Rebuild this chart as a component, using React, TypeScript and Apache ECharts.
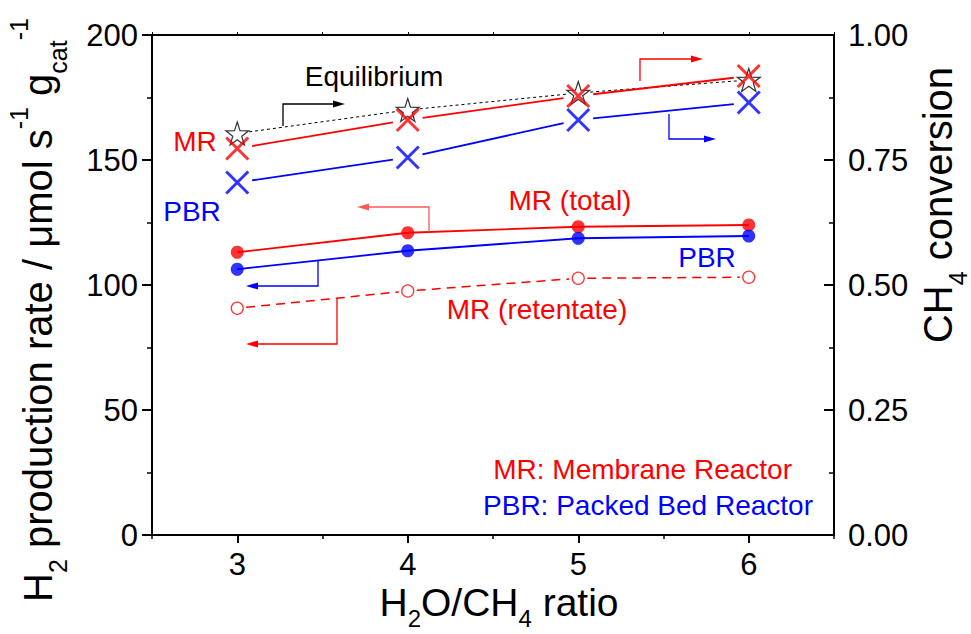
import React, { useEffect, useRef } from 'react';
import * as echarts from 'echarts';

// ---- data ----
const ratios = [3, 4, 5, 6];
const xTickLabels = [3, 4, 5, 6];
const mrTotalRate = [113.1, 120.9, 123.3, 124.0];
const pbrRate = [106.3, 113.7, 118.7, 119.6];
const mrRetentateRate = [90.7, 97.6, 102.7, 103.1];
const eqConversion = [0.803, 0.85, 0.884, 0.91];
const mrConversion = [0.773, 0.83, 0.878, 0.918];
const pbrConversion = [0.705, 0.755, 0.83, 0.865];
const rateAxis = { min: 0, max: 200, interval: 50 };
const convAxis = { min: 0, max: 1, interval: 0.25 };

const FONT = 'Liberation Sans, Arial, Helvetica, sans-serif';
const RED = '#ff0000';
const BLUE = '#0000ff';

const starPath = (() => {
  const pts: string[] = [];
  for (let k = 0; k < 10; k++) {
    const r = k % 2 === 0 ? 10 : 3.9;
    const a = (-90 + k * 36) * Math.PI / 180;
    pts.push(`${(r * Math.cos(a)).toFixed(3)},${(r * Math.sin(a)).toFixed(3)}`);
  }
  return 'path://M' + pts.join('L') + 'Z';
})();
const crossPath = 'path://M0,0L10,10M10,0L0,10';

function segmentSeries(values: number[], yAxisIndex: number, color: string, width: number, dash: number[] | null, gap: number) {
  return {
    type: 'custom',
    xAxisIndex: 0,
    yAxisIndex,
    silent: true,
    z: 2,
    data: ratios.map((x, i) => [x, values[i]]),
    encode: { x: 0, y: 1 },
    renderItem: (params: any, api: any) => {
      const i = params.dataIndex;
      if (i >= ratios.length - 1) return { type: 'group', children: [] };
      const a = api.coord([ratios[i], values[i]]);
      const b = api.coord([ratios[i + 1], values[i + 1]]);
      const dx = b[0] - a[0];
      const dy = b[1] - a[1];
      const len = Math.hypot(dx, dy);
      const ux = dx / len;
      const uy = dy / len;
      return {
        type: 'line',
        shape: { x1: a[0] + ux * gap, y1: a[1] + uy * gap, x2: b[0] - ux * gap, y2: b[1] - uy * gap },
        style: { stroke: color, lineWidth: width, lineDash: dash || undefined, fill: null },
      };
    },
  };
}

function markerSeries(values: number[], yAxisIndex: number, symbol: string, size: number, itemStyle: any, z = 3) {
  return {
    type: 'scatter',
    xAxisIndex: 0,
    yAxisIndex,
    z,
    symbol,
    symbolSize: size,
    itemStyle,
    data: ratios.map((x, i) => [x, values[i]]),
  };
}

function arrow(pts: number[][], color: string, width = 1.3): any[] {
  const [px, py] = pts[pts.length - 1];
  const [qx] = pts[pts.length - 2];
  const dir = Math.sign(px - qx);
  const headLen = 12;
  const half = 3.5;
  const base = px - dir * headLen;
  return [
    {
      type: 'polyline',
      z: 5,
      shape: { points: [...pts.slice(0, -1), [base, py]] },
      style: { stroke: color, lineWidth: width, fill: 'none' },
    },
    {
      type: 'polygon',
      z: 5,
      shape: { points: [[px, py], [base, py - half], [base, py + half]] },
      style: { fill: color, stroke: 'none' },
    },
  ];
}

function label(text: string, x: number, y: number, color: string, align = 'center', size = 28): any {
  return {
    type: 'text',
    x,
    y,
    z: 6,
    style: { text, fill: color, font: `${size}px ${FONT}`, align, verticalAlign: 'middle' },
  };
}

const titleRich = (size: number, lh: number) => ({
  m: { fontSize: size, fontFamily: FONT, fill: '#000', lineHeight: lh },
  sb: { fontSize: Math.round(size * 0.62), fontFamily: FONT, fill: '#000', lineHeight: 25, verticalAlign: 'bottom' },
  sp: { fontSize: Math.round(size * 0.62), fontFamily: FONT, fill: '#000', lineHeight: 32, verticalAlign: 'top' },
});

function title(text: string, x: number, y: number, size: number, rotation: number, lh = 64): any {
  return {
    type: 'text',
    x,
    y,
    rotation,
    z: 6,
    style: { text, rich: titleRich(size, lh), fill: '#000', font: `${size}px ${FONT}`, align: 'center', verticalAlign: 'middle' },
  };
}

export default function App() {
  const ref = useRef<HTMLDivElement>(null);
  useEffect(() => {
    if (!ref.current) return;
    const chart = echarts.init(ref.current, null, { renderer: 'svg' });
    const axisLine = { show: true, onZero: false, lineStyle: { color: '#000', width: 2 } };
    const option: any = {
      animation: false,
      backgroundColor: '#fff',
      grid: { left: 152, right: 137, top: 35, bottom: 99, containLabel: false },
      xAxis: [
        {
          type: 'value', position: 'bottom', min: 2.5, max: 6.5, interval: 0.5,
          axisLine,
          axisTick: { show: true, inside: false, length: 4, lineStyle: { color: '#000', width: 1.5 } },
          axisLabel: {
            color: '#000', fontSize: 31, fontFamily: FONT, margin: 14,
            formatter: (v: number) => (xTickLabels.includes(v) ? String(v) : ''),
          },
          splitLine: { show: false },
        },
        {
          type: 'value', position: 'bottom', min: 2.5, max: 6.5, interval: 0.5,
          axisLine: { show: false },
          axisTick: { show: true, inside: false, length: 8, customValues: xTickLabels, lineStyle: { color: '#000', width: 2 } },
          axisLabel: { show: false },
          splitLine: { show: false },
        },
        {
          type: 'value', position: 'top', min: 2.5, max: 6.5, interval: 0.5,
          axisLine,
          axisTick: { show: true, inside: false, length: 3, lineStyle: { color: '#000', width: 1 } },
          axisLabel: { show: false },
          splitLine: { show: false },
        },
      ],
      yAxis: [
        {
          type: 'value', position: 'left', min: rateAxis.min, max: rateAxis.max, interval: rateAxis.interval,
          axisLine,
          axisTick: { show: true, inside: false, length: 10, lineStyle: { color: '#000', width: 2 } },
          minorTick: { show: true, splitNumber: 2, length: 5, lineStyle: { color: '#000', width: 1.5 } },
          axisLabel: { color: '#000', fontSize: 31, fontFamily: FONT, margin: 14 },
          splitLine: { show: false },
          minorSplitLine: { show: false },
        },
        {
          type: 'value', position: 'right', min: convAxis.min, max: convAxis.max, interval: convAxis.interval,
          axisLine,
          axisTick: { show: true, inside: true, length: 10, lineStyle: { color: '#000', width: 2 } },
          minorTick: { show: true, splitNumber: 2, length: 5, lineStyle: { color: '#000', width: 1.5 } },
          axisLabel: { color: '#000', fontSize: 31, fontFamily: FONT, margin: 14, formatter: (v: number) => v.toFixed(2) },
          splitLine: { show: false },
          minorSplitLine: { show: false },
        },
      ],
      series: [
        segmentSeries(eqConversion, 1, '#000', 1, [3, 3], 12),
        segmentSeries(mrConversion, 1, RED, 1.8, null, 15),
        segmentSeries(pbrConversion, 1, BLUE, 1.8, null, 15),
        segmentSeries(mrTotalRate, 0, RED, 1.8, null, 0),
        segmentSeries(pbrRate, 0, BLUE, 1.8, null, 0),
        segmentSeries(mrRetentateRate, 0, RED, 1.5, [9, 6], 9),
        markerSeries(eqConversion, 1, starPath, 23, { color: '#fff', borderColor: '#000', borderWidth: 1.2 }, 3),
        markerSeries(mrConversion, 1, crossPath, 22, { color: RED, borderColor: RED, borderWidth: 3 }, 4),
        markerSeries(pbrConversion, 1, crossPath, 22, { color: BLUE, borderColor: BLUE, borderWidth: 3 }, 4),
        markerSeries(mrTotalRate, 0, 'circle', 13, { color: RED }),
        markerSeries(pbrRate, 0, 'circle', 13, { color: BLUE }),
        markerSeries(mrRetentateRate, 0, 'circle', 12, { color: '#fff', borderColor: RED, borderWidth: 1.3 }),
      ],
      graphic: [
        ...arrow([[283, 126], [283, 104], [345, 104]], '#000'),
        ...arrow([[640, 81], [640, 59], [703, 59]], RED),
        ...arrow([[669, 114], [669, 139], [716, 139]], BLUE),
        ...arrow([[429, 232], [429, 207], [357, 207]], '#ff5a5a'),
        ...arrow([[318, 261], [318, 286], [246, 286]], BLUE),
        ...arrow([[337, 298], [337, 344], [246, 344]], RED),
        label('Equilibrium', 374, 76, '#000'),
        label('MR', 195, 141, RED),
        label('PBR', 192, 211, BLUE),
        label('MR (total)', 570, 200, RED),
        label('PBR', 707, 257, BLUE),
        label('MR (retentate)', 537, 309, RED),
        label('MR: Membrane Reactor', 792, 469, RED, 'right'),
        label('PBR: Packed Bed Reactor', 813, 505, BLUE, 'right'),
        title('{m|H}{sb|2}{m| production rate / μmol s}{sp|-1}{m| g}{sb|cat}{sp|-1}', 38, 310, 40, Math.PI / 2),
        title('{m|CH}{sb|4}{m| conversion}', 938, 205, 40, Math.PI / 2),
        title('{m|H}{sb|2}{m|O/CH}{sb|4}{m| ratio}', 499, 602, 39, 0, 56),
      ],
    };
    chart.setOption(option);
    return () => chart.dispose();
  }, []);
  return <div ref={ref} style={{ position: 'fixed', left: 0, top: 0, width: 971, height: 634, background: '#fff' }} />;
}
